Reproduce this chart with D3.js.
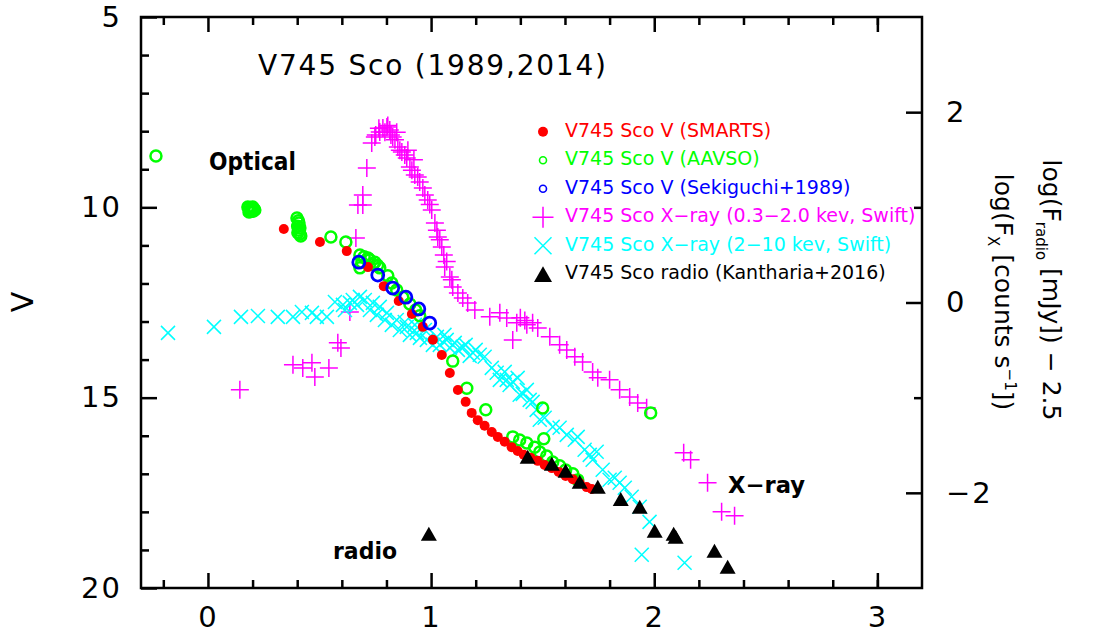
<!DOCTYPE html>
<html><head><meta charset="utf-8">
<script src="https://cdn.jsdelivr.net/npm/d3@7"></script>
<style>
html,body{margin:0;padding:0;background:#fff;}
svg{display:block;}
text{font-family:"DejaVu Sans",sans-serif;}
</style></head><body>
<svg id="chart" width="1095" height="633"></svg>
<script>
// ---- tick values ----
const xMajorTicks = [0, 1, 2, 3];
const xMinorTicks = [-0.2, 0.2, 0.4, 0.6, 0.8, 1.2, 1.4, 1.6, 1.8, 2.2, 2.4, 2.6, 2.8, 3.0];
const vMajorTicks = [5, 10, 15, 20];
const vMinorTicks = [6, 7, 8, 9, 11, 12, 13, 14, 16, 17, 18, 19];
const rMajorTicks = [-2, 0, 2];
const rMinorTicks = [-1, 1];

// ---- data: [log t, V] ----
const smarts = [[0.340,10.57],[0.502,10.91],[0.622,11.15],[0.717,11.57],[0.788,12.07],[0.855,12.46],[0.914,12.80],[0.963,13.14],[1.008,13.48],[1.048,13.88],[1.084,14.35],[1.120,14.80],[1.155,15.11],[1.182,15.40],[1.209,15.59],[1.240,15.74],[1.272,15.90],[1.299,16.03],[1.330,16.16],[1.361,16.30],[1.388,16.40],[1.415,16.50],[1.446,16.58],[1.478,16.66],[1.509,16.77],[1.541,16.85],[1.572,16.95],[1.603,17.06],[1.635,17.14],[1.666,17.24],[1.697,17.35],[1.720,17.40]];
const aavso = [[-0.233,8.65],[0.179,9.99],[0.185,10.02],[0.190,10.11],[0.193,10.04],[0.195,10.08],[0.200,9.99],[0.202,10.10],[0.205,10.03],[0.184,10.12],[0.210,10.07],[0.399,10.28],[0.405,10.35],[0.408,10.41],[0.402,10.50],[0.412,10.54],[0.407,10.60],[0.403,10.67],[0.412,10.70],[0.416,10.75],[0.551,10.78],[0.618,10.91],[0.681,11.25],[0.690,11.44],[0.681,11.59],[0.700,11.30],[0.717,11.33],[0.725,11.38],[0.740,11.50],[0.748,11.44],[0.760,11.52],[0.770,11.59],[0.806,11.80],[0.824,11.99],[0.846,12.17],[0.873,12.36],[0.905,12.54],[0.931,12.70],[0.949,12.85],[1.097,14.04],[1.160,14.75],[1.245,15.32],[1.500,15.27],[1.505,16.08],[1.984,15.40],[1.366,16.03],[1.397,16.11],[1.429,16.19],[1.464,16.30],[1.487,16.43],[1.518,16.53],[1.545,16.69],[1.576,16.79],[1.603,16.90],[1.635,17.00],[1.657,17.16]];
const sekiguchi = [[0.676,11.44],[0.761,11.78],[0.828,12.12],[0.887,12.36],[0.945,12.67],[0.994,13.04]];
// ---- data: [log t, log F] (right axis) ----
const xraySoft = [[0.143,-0.918],[0.381,-0.655],[0.425,-0.687],[0.466,-0.634],[0.479,-0.782],[0.542,-0.687],[0.582,-0.424],[0.596,-0.477],[0.636,-0.099],[0.663,0.679],[0.672,1.025],[0.694,1.130],[0.694,1.025],[0.712,1.414],[0.734,1.676],[0.748,1.739],[0.752,1.76],[0.766,1.83],[0.770,1.792],[0.784,1.834],[0.793,1.79],[0.802,1.845],[0.806,1.86],[0.815,1.813],[0.820,1.76],[0.828,1.739],[0.838,1.71],[0.846,1.79],[0.851,1.634],[0.860,1.60],[0.869,1.582],[0.882,1.55],[0.891,1.519],[0.896,1.60],[0.905,1.424],[0.914,1.39],[0.923,1.50],[0.927,1.340],[0.940,1.32],[0.949,1.267],[0.963,1.204],[0.972,1.13],[0.985,1.078],[0.994,1.03],[1.003,0.973],[1.017,0.836],[1.026,0.76],[1.030,0.689],[1.039,0.66],[1.048,0.584],[1.057,0.50],[1.061,0.374],[1.070,0.43],[1.084,0.269],[1.093,0.24],[1.097,0.164],[1.120,0.101],[1.142,0.048],[1.164,-0.004],[1.196,-0.078],[1.263,-0.151],[1.308,-0.109],[1.339,-0.162],[1.366,-0.393],[1.384,-0.214],[1.400,-0.16],[1.420,-0.19],[1.429,-0.235],[1.455,-0.214],[1.478,-0.267],[1.532,-0.361],[1.576,-0.445],[1.608,-0.498],[1.644,-0.571],[1.679,-0.624],[1.724,-0.729],[1.747,-0.792],[1.800,-0.813],[1.845,-0.918],[1.890,-0.992],[1.926,-1.055],[1.966,-1.107],[2.132,-1.580],[2.163,-1.653],[2.239,-1.895],[2.302,-2.200],[2.360,-2.242]];
const xrayHard = [[-0.179,-0.319],[0.027,-0.256],[0.148,-0.151],[0.224,-0.141],[0.313,-0.151],[0.381,-0.151],[0.421,-0.099],[0.466,-0.109],[0.488,-0.151],[0.533,-0.151],[0.569,0.006],[0.605,-0.025],[0.614,-0.078],[0.636,-0.004],[0.649,0.027],[0.668,-0.025],[0.681,0.059],[0.703,0.027],[0.726,-0.078],[0.739,-0.004],[0.757,-0.13],[0.770,-0.046],[0.793,-0.183],[0.802,-0.109],[0.824,-0.235],[0.846,-0.183],[0.860,-0.288],[0.882,-0.204],[0.891,-0.256],[0.905,-0.34],[0.927,-0.235],[0.936,-0.319],[0.950,-0.372],[0.972,-0.288],[0.981,-0.393],[1.008,-0.445],[1.026,-0.361],[1.039,-0.445],[1.060,-0.34],[1.070,-0.393],[1.084,-0.477],[1.106,-0.424],[1.120,-0.498],[1.142,-0.466],[1.155,-0.445],[1.173,-0.561],[1.187,-0.529],[1.200,-0.498],[1.218,-0.550],[1.240,-0.571],[1.272,-0.687],[1.294,-0.739],[1.308,-0.813],[1.330,-0.729],[1.339,-0.813],[1.352,-0.866],[1.366,-0.834],[1.388,-0.792],[1.397,-0.97],[1.411,-0.960],[1.429,-0.918],[1.442,-1.023],[1.455,-1.044],[1.473,-1.128],[1.487,-1.233],[1.509,-1.212],[1.545,-1.307],[1.576,-1.317],[1.608,-1.391],[1.644,-1.443],[1.657,-1.412],[1.688,-1.548],[1.711,-1.601],[1.724,-1.653],[1.742,-1.569],[1.769,-1.758],[1.800,-1.863],[1.823,-1.842],[1.845,-1.895],[1.868,-1.947],[1.899,-2.042],[1.935,-2.147],[1.979,-2.305],[1.944,-2.651],[2.136,-2.735]];
const radio = [[0.990,-2.441],[1.433,-1.632],[1.541,-1.706],[1.603,-1.779],[1.666,-1.895],[1.747,-1.947],[1.850,-2.074],[1.935,-2.158],[2.002,-2.410],[2.087,-2.441],[2.096,-2.473],[2.270,-2.620],[2.329,-2.788]];

const legendLabels = ["V745 Sco V (SMARTS)","V745 Sco V (AAVSO)","V745 Sco V (Sekiguchi+1989)","V745 Sco X\u2212ray (0.3\u22122.0 kev, Swift)","V745 Sco X\u2212ray (2\u221210 kev, Swift)","V745 Sco radio (Kantharia+2016)"];

// ---- layout ----
const L = 141, R = 922, T = 17, B = 588;
const svg = d3.select("#chart");
const x = d3.scaleLinear().domain([-0.3, 3.2]).range([L, R]);
const yV = d3.scaleLinear().domain([5, 20]).range([T, B]);
const yR = d3.scaleLinear().domain([3, -3]).range([T, B]);

const COL = {red:"#ff0000", green:"#00ff00", blue:"#0000ff", mag:"#ff00ff", cyan:"#00ffff", black:"#000000"};

function styleAxis(g){
  g.select(".domain").remove();
  g.selectAll(".tick line").attr("stroke","#000").attr("stroke-width",2.5);
  g.selectAll(".tick text").attr("font-family","DejaVu Sans").attr("font-size",29).attr("fill","#000").attr("letter-spacing",2);
}
// bottom
svg.append("g").attr("transform",`translate(0,${B})`)
  .call(d3.axisBottom(x).tickValues(xMajorTicks).tickSize(-15).tickPadding(18).tickFormat(d3.format("d"))).call(styleAxis);
svg.append("g").attr("transform",`translate(0,${B})`)
  .call(d3.axisBottom(x).tickValues(xMinorTicks).tickSize(-8).tickFormat("")).call(styleAxis);
// top
svg.append("g").attr("transform",`translate(0,${T})`)
  .call(d3.axisTop(x).tickValues(xMajorTicks).tickSize(-15).tickFormat("")).call(styleAxis);
svg.append("g").attr("transform",`translate(0,${T})`)
  .call(d3.axisTop(x).tickValues(xMinorTicks).tickSize(-8).tickFormat("")).call(styleAxis);
// left
svg.append("g").attr("transform",`translate(${L},0)`)
  .call(d3.axisLeft(yV).tickValues(vMajorTicks).tickSize(-16).tickPadding(19).tickFormat(d3.format("d"))).call(styleAxis);
svg.append("g").attr("transform",`translate(${L},0)`)
  .call(d3.axisLeft(yV).tickValues(vMinorTicks).tickSize(-8).tickFormat("")).call(styleAxis);
// right
svg.append("g").attr("transform",`translate(${R},0)`)
  .call(d3.axisRight(yR).tickValues(rMajorTicks).tickSize(-16).tickPadding(24).tickFormat(d3.format("d"))).call(styleAxis);
svg.append("g").attr("transform",`translate(${R},0)`)
  .call(d3.axisRight(yR).tickValues(rMinorTicks).tickSize(-8).tickFormat("")).call(styleAxis);

// frame
svg.append("rect").attr("x",L).attr("y",T).attr("width",R-L).attr("height",B-T)
  .attr("fill","none").attr("stroke","#000").attr("stroke-width",2.5);

// ---- marks ----
const plus = s => `M${-s},0H${s}M0,${-s}V${s}`;
const cross = s => `M${-s},${-s}L${s},${s}M${-s},${s}L${s},${-s}`;
const tri = s => `M0,${-s}L${s},${s*0.75}H${-s}Z`;

svg.append("g").selectAll("path").data(xraySoft).join("path")
  .attr("transform",d=>`translate(${x(d[0])},${yR(d[1])})`).attr("d",plus(9))
  .attr("stroke",COL.mag).attr("stroke-width",1.5).attr("fill","none");
svg.append("g").selectAll("path").data(xrayHard).join("path")
  .attr("transform",d=>`translate(${x(d[0])},${yR(d[1])})`).attr("d",cross(7))
  .attr("stroke",COL.cyan).attr("stroke-width",1.5).attr("fill","none");
svg.append("g").selectAll("circle").data(aavso).join("circle")
  .attr("cx",d=>x(d[0])).attr("cy",d=>yV(d[1])).attr("r",5.5)
  .attr("fill","none").attr("stroke",COL.green).attr("stroke-width",2.5);
svg.append("g").selectAll("circle").data(smarts).join("circle")
  .attr("cx",d=>x(d[0])).attr("cy",d=>yV(d[1])).attr("r",5).attr("fill",COL.red);
svg.append("g").selectAll("circle").data(sekiguchi).join("circle")
  .attr("cx",d=>x(d[0])).attr("cy",d=>yV(d[1])).attr("r",6)
  .attr("fill","none").attr("stroke",COL.blue).attr("stroke-width",2.8);
svg.append("g").selectAll("path").data(radio).join("path")
  .attr("transform",d=>`translate(${x(d[0])},${yR(d[1])})`).attr("d",tri(8)).attr("fill",COL.black);

// ---- legend ----
const legendColors = [COL.red, COL.green, COL.blue, COL.mag, COL.cyan, COL.black];
const lg = svg.append("g");
legendLabels.forEach((lab,i)=>{
  const cy = 131.7 + i*28.5;
  const mx = 543;
  if(i===0) lg.append("circle").attr("cx",mx).attr("cy",cy).attr("r",5).attr("fill",COL.red);
  if(i===1) lg.append("circle").attr("cx",mx).attr("cy",cy).attr("r",3.5).attr("fill","none").attr("stroke",COL.green).attr("stroke-width",1.6);
  if(i===2) lg.append("circle").attr("cx",mx).attr("cy",cy).attr("r",3.5).attr("fill","none").attr("stroke",COL.blue).attr("stroke-width",1.6);
  if(i===3) lg.append("path").attr("transform",`translate(${mx},${cy})`).attr("d",plus(10.5)).attr("stroke",COL.mag).attr("stroke-width",1.5);
  if(i===4) lg.append("path").attr("transform",`translate(${mx},${cy})`).attr("d",cross(8.5)).attr("stroke",COL.cyan).attr("stroke-width",1.5);
  if(i===5) lg.append("path").attr("transform",`translate(${mx},${cy+1})`).attr("d",tri(9)).attr("fill",COL.black);
  lg.append("text").attr("x",565).attr("y",cy+5).attr("font-size",19).attr("fill",legendColors[i]).text(lab);
});

// ---- annotations ----
svg.append("text").attr("x",258).attr("y",75).attr("font-size",28)
  .attr("textLength",348).attr("lengthAdjust","spacing").text("V745 Sco (1989,2014)");
svg.append("text").attr("x",209).attr("y",170).attr("font-size",25).attr("font-weight","bold")
  .attr("textLength",87).attr("lengthAdjust","spacingAndGlyphs").text("Optical");
svg.append("text").attr("x",333).attr("y",559).attr("font-size",23).attr("font-weight","bold")
  .attr("textLength",64).attr("lengthAdjust","spacingAndGlyphs").text("radio");
svg.append("text").attr("x",728).attr("y",493).attr("font-size",23).attr("font-weight","bold")
  .attr("textLength",77).attr("lengthAdjust","spacingAndGlyphs").text("X\u2212ray");

// axis titles
svg.append("text").attr("transform","translate(33,302) rotate(-90)").attr("text-anchor","middle")
  .attr("font-size",30).text("V");
const t1 = svg.append("text").attr("transform","translate(1043,290) rotate(90)").attr("text-anchor","middle").attr("font-size",25);
t1.append("tspan").text("log(F");
t1.append("tspan").attr("font-size",15).attr("dy",7).text("radio");
t1.append("tspan").attr("dy",-7).text(" [mJy]) \u2212 2.5");
const t2 = svg.append("text").attr("transform","translate(995,292) rotate(90)").attr("text-anchor","middle").attr("font-size",25);
t2.append("tspan").text("log(F");
t2.append("tspan").attr("font-size",15).attr("dy",7).text("X");
t2.append("tspan").attr("dy",-7).text(" [counts s");
t2.append("tspan").attr("font-size",15).attr("dy",-10).text("\u22121");
t2.append("tspan").attr("dy",10).text("])");
</script>
</body></html>
